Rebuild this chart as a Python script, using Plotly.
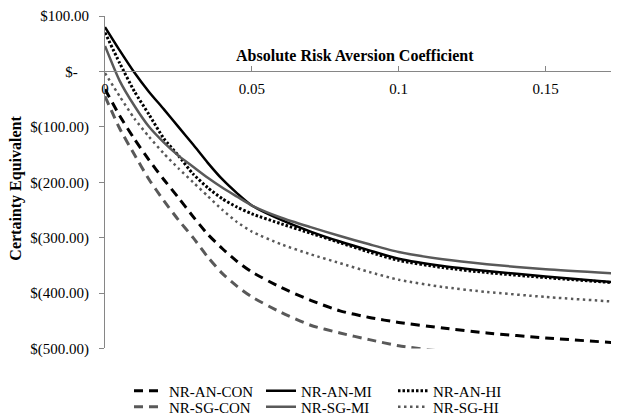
import plotly.graph_objects as go

# Absolute risk aversion coefficient (x)
ara = [0, 0.005, 0.01, 0.015, 0.02, 0.025, 0.03, 0.035, 0.04, 0.045, 0.05,
       0.06, 0.07, 0.08, 0.09, 0.1, 0.115, 0.13, 0.15, 0.175]

# Certainty equivalents ($)
nr_an_con = [-32, -80, -122, -160, -195, -228, -262, -294, -320, -343, -362,
             -390, -413, -432, -444, -453, -463, -472, -481, -490]
nr_an_mi = [80, 38, -2, -37, -68, -100, -132, -165, -195, -220, -242,
            -268, -289, -307, -323, -338, -351, -360, -370, -381]
nr_an_hi = [70, 15, -36, -78, -121, -152, -185, -210, -230, -245, -257,
            -275, -292, -309, -326, -341, -354, -363, -372, -382]
nr_sg_con = [-45, -103, -150, -195, -233, -268, -300, -335, -365, -388, -407,
             -435, -458, -472, -484, -495, -505, -513, -522, -531]
nr_sg_mi = [46, -17, -62, -100, -128, -152, -172, -192, -210, -226, -242,
            -264, -281, -297, -312, -326, -339, -348, -357, -365]
nr_sg_hi = [-3, -45, -85, -118, -148, -175, -200, -225, -250, -272, -289,
            -312, -330, -346, -362, -376, -389, -398, -407, -416]

y_tickvals = [100, 0, -100, -200, -300, -400, -500]
y_ticktext = ["$100.00", "$-\u00a0\u00a0\u00a0", "$(100.00)", "$(200.00)",
              "$(300.00)", "$(400.00)", "$(500.00)"]
x_tickvals = [0, 0.05, 0.1, 0.15]
x_ticktext = ["0", "0.05", "0.1", "0.15"]

BLACK = "#000000"
GRAY = "#595959"
FONT = "Liberation Serif"

series = [
    ("NR-AN-CON", nr_an_con, BLACK, "9px,6px", 3, "legend"),
    ("NR-AN-MI", nr_an_mi, BLACK, "solid", 2.5, "legend"),
    ("NR-AN-HI", nr_an_hi, BLACK, "2.5px,2px", 3, "legend"),
    ("NR-SG-CON", nr_sg_con, GRAY, "9px,6px", 3, "legend2"),
    ("NR-SG-MI", nr_sg_mi, GRAY, "solid", 2.5, "legend2"),
    ("NR-SG-HI", nr_sg_hi, GRAY, "2.5px,3.5px", 2.5, "legend2"),
]

fig = go.Figure()
for name, vals, color, dash, w, lg in series:
    fig.add_trace(go.Scatter(
        x=ara, y=vals, mode="lines", name=name, legend=lg,
        line=dict(color=color, dash=dash, width=w, shape="spline", smoothing=0.6),
    ))

W, H = 611, 410  # page adds an 8px body margin

legend_common = dict(
    orientation="h", xref="container", yref="container",
    xanchor="left", yanchor="middle",
    entrywidth=87, entrywidthmode="pixels",
    font=dict(family=FONT, size=15), bgcolor="rgba(0,0,0,0)",
    tracegroupgap=0,
)

fig.update_layout(
    width=W, height=H,
    margin=dict(l=97, r=0, t=8, b=65),
    paper_bgcolor="white", plot_bgcolor="white",
    font=dict(family=FONT, size=15, color="black"),
    showlegend=True,
    xaxis=dict(
        range=[0, 0.175], tickvals=x_tickvals, ticktext=x_ticktext,
        anchor="free", position=500 / 600, side="bottom",
        showline=True, linecolor="#868686", linewidth=1,
        ticks="inside", ticklen=5, tickcolor="#868686",
        ticklabelstandoff=4,
        showgrid=False, zeroline=False,
        tickfont=dict(family=FONT, size=15),
    ),
    yaxis=dict(
        range=[-500, 100], tickvals=y_tickvals, ticktext=y_ticktext,
        domain=[0, 1],
        showline=True, linecolor="#868686", linewidth=1,
        ticks="outside", ticklen=5, tickcolor="#868686",
        ticklabelstandoff=7,
        showgrid=False, zeroline=False,
        tickfont=dict(family=FONT, size=15),
    ),
    legend=dict(legend_common, x=121 / W, y=1 - 383 / H),
    legend2=dict(legend_common, x=121 / W, y=1 - 399 / H),
    annotations=[
        dict(text="<b>Absolute Risk Aversion Coefficient</b>",
             xref="paper", yref="paper", x=(355 - 105) / 514, y=(353 - 56) / 337,
             xanchor="center", yanchor="middle", showarrow=False,
             font=dict(family=FONT, size=16)),
        dict(text="<b>Certainty Equivalent</b>",
             xref="paper", yref="paper", x=(16 - 105) / 514, y=(353 - 191) / 337,
             xanchor="center", yanchor="middle", showarrow=False, textangle=-90,
             font=dict(family=FONT, size=16)),
    ],
)

fig.write_html("out.html")
